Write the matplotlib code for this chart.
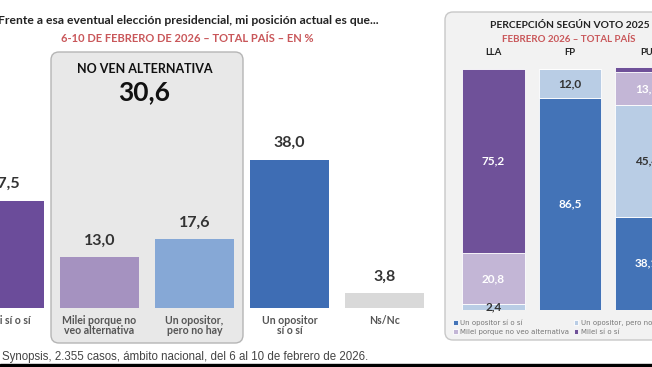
import matplotlib.pyplot as plt
from matplotlib.patches import FancyBboxPatch, Rectangle

# datos del grafico principal
categorias = ["Milei sí o sí", "Milei porque no\nveo alternativa", "Un opositor,\npero no hay",
              "Un opositor\nsí o sí", "Ns/Nc"]
valores = [27.5, 13.0, 17.6, 38.0, 3.8]
colores = ["#6b4c9a", "#a592c0", "#86a8d6", "#3e6db4", "#d9d9d9"]
no_ven_alternativa = 30.6

# percepcion segun voto 2025
partidos = ["LLA", "FP", "PU"]
opositor_si = [0.0, 86.5, 38.1]
opositor_no_hay = [2.4, 12.0, 45.4]
milei_no_alt = [20.8, 0.0, 13.8]
milei_si = [75.2, 0.0, 2.0]
series = ["Un opositor sí o sí", "Un opositor, pero no hay", "Milei porque no veo alternativa", "Milei sí o sí"]
colores_der = ["#4373b7", "#b9cde5", "#c3b6d6", "#6f5199"]
texto_der = ["white", "#333333", "white", "white"]

W, H = 652, 367
fig = plt.figure(figsize=(W / 100, H / 100), dpi=100)
fig.patch.set_facecolor("white")

BOLD = "Lato"

def ftxt(x, y, s, **kw):
    fig.text(x / W, 1 - y / H, s, **kw)

# ---- panel izquierdo ----
ax1 = fig.add_axes([0, 59 / H, 440 / W, 300 / H])
ax1.patch.set_visible(False)
escala = 3.895  # px por punto
ax1.set_ylim(0, 300 / escala)
ax1.set_xlim(-4.5 / 95, (440 - 4.5) / 95)
x = list(range(len(valores)))
ax1.bar(x, valores, width=0.83, color=colores, zorder=3)
for i, v in enumerate(valores):
    ax1.text(i, v + 4.3, f"{v:.1f}".replace(".", ","), ha="center", va="center",
             fontsize=11.5, fontweight="bold", color="#333333", family=BOLD, zorder=4)
ax1.set_xticks(x)
ax1.set_xticklabels(categorias, fontsize=7.6, fontweight="bold", color="#555555",
                    family=BOLD, linespacing=0.95)
ax1.tick_params(axis="x", length=0, pad=5)
ax1.set_yticks([])
for s in ax1.spines.values():
    s.set_visible(False)

# recuadro "no ven alternativa"
r = 0.08
caja = FancyBboxPatch((0.51 + r, 0.24 + r), 1.92 - 2 * r, 2.91 - 2 * r,
                      boxstyle=f"round,pad={r}", transform=fig.dpi_scale_trans,
                      facecolor="#e8e8e8", edgecolor="#b5b5b5", lw=1, zorder=0, clip_on=False)
ax1.add_patch(caja)

ftxt(188, 21, "Frente a esa eventual elección presidencial, mi posición actual es que...",
     ha="center", va="center", fontsize=8.7, fontweight="bold", color="#222222", family=BOLD)
ftxt(187, 39, "6-10 DE FEBRERO DE 2026 – TOTAL PAÍS – EN %", ha="center", va="center",
     fontsize=8.0, fontweight="bold", color="#c9575a", family=BOLD)
ftxt(145, 69, "NO VEN ALTERNATIVA", ha="center", va="center", fontsize=9.0,
     fontweight="bold", color="#111111", family=BOLD)
ftxt(144, 92, f"{no_ven_alternativa:.1f}".replace(".", ","), ha="center", va="center",
     fontsize=19, fontweight="bold", color="#111111", family=BOLD)
ftxt(2, 357, "Synopsis, 2.355 casos, ámbito nacional, del 6 al 10 de febrero de 2026.",
     ha="left", va="center", fontsize=8.3, color="#444444", family="Liberation Sans")

# ---- panel derecho ----
ax2 = fig.add_axes([445 / W, 57 / H, 207 / W, 245 / H])
ax2.patch.set_visible(False)
ax2.set_ylim(0, 100)
ax2.set_xlim(-(493.5 - 445) / 76.5, (652 - 493.5) / 76.5)
caja2 = FancyBboxPatch((4.45 + r, 0.27 + r), 2.4 - 2 * r, 3.28 - 2 * r,
                       boxstyle=f"round,pad={r}", transform=fig.dpi_scale_trans,
                       facecolor="#f2f2f2", edgecolor="#c8c8c8", lw=1, zorder=0, clip_on=False)
ax2.add_patch(caja2)

xp = list(range(len(partidos)))
base = [0.0] * len(partidos)
handles = []
for serie, vals, col, tc in zip(series, [opositor_si, opositor_no_hay, milei_no_alt, milei_si],
                                colores_der, texto_der):
    b = ax2.bar(xp, vals, bottom=base, width=0.82, color=col, edgecolor="white", lw=0.6,
                zorder=3, label=serie)
    handles.append(b)
    for i, v in enumerate(vals):
        if v >= 2.4:
            ax2.text(i, base[i] + v / 2, f"{v:.1f}".replace(".", ","), ha="center", va="center",
                     fontsize=8.5, fontweight="bold", color=tc, family=BOLD, zorder=4)
    base = [a + v for a, v in zip(base, vals)]
for i, p in enumerate(partidos):
    ax2.text(i, 104.9, p, ha="center", va="center", fontsize=6.8, fontweight="bold",
             color="#222222", family=BOLD, clip_on=False)
ax2.axis("off")

ftxt(570, 26, "PERCEPCIÓN SEGÚN VOTO 2025", ha="center", va="center", fontsize=7.4,
     fontweight="bold", color="#222222", family=BOLD)
ftxt(569, 39, "FEBRERO 2026 – TOTAL PAÍS", ha="center", va="center", fontsize=7,
     fontweight="bold", color="#c9575a", family=BOLD)

orden = [0, 2, 1, 3]
fig.legend([handles[k] for k in orden], [series[k] for k in orden], loc="upper left",
           bbox_to_anchor=(450 / W, 1 - 316 / H), ncol=2, frameon=False, fontsize=5,
           handlelength=0.6, handleheight=0.6, handletextpad=0.3, columnspacing=0.8,
           labelspacing=0.4, labelcolor="#777777", borderpad=0)

fig.add_artist(Rectangle((0, 0), 1, 3 / H, transform=fig.transFigure, color="black"))

fig.savefig("out.png", dpi=100)
